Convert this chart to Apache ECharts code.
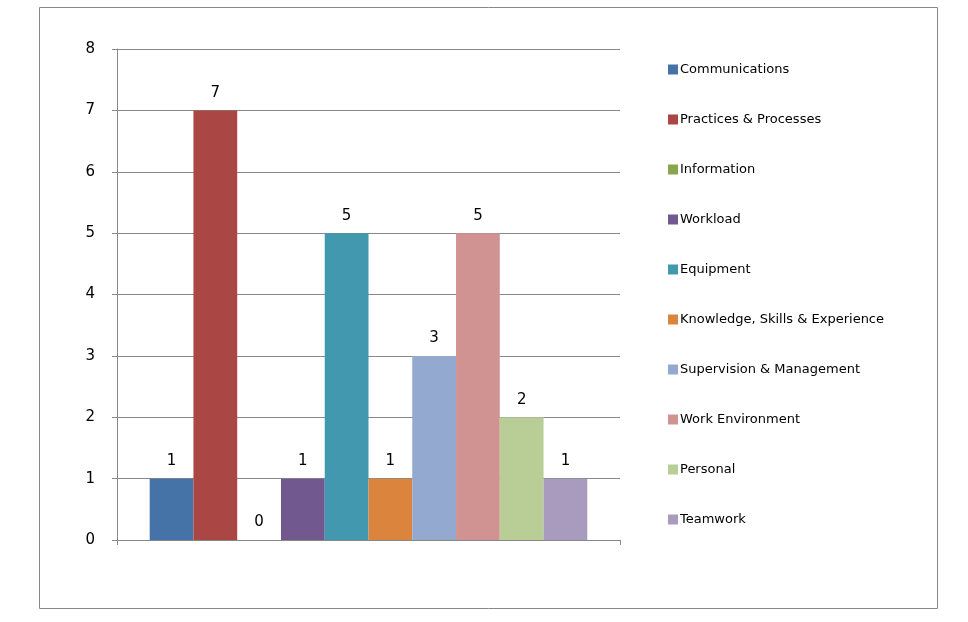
<!DOCTYPE html>
<html><head><meta charset="utf-8">
<script src="https://cdn.jsdelivr.net/npm/echarts@6/dist/echarts.min.js"></script>
<style>body{margin:0;background:#fff}#c{width:968px;height:622px}</style>
</head><body><div id="c"></div>
<script>
const categories = [''];
const seriesNames = ['Communications','Practices & Processes','Information','Workload','Equipment','Knowledge, Skills & Experience','Supervision & Management','Work Environment','Personal','Teamwork'];
const seriesValues = [1,7,0,1,5,1,3,5,2,1];
const colors = ['#4572A7','#AA4643','#89A54E','#71588F','#4198AF','#DB843D','#93A9CF','#D19392','#B9CD96','#A99BBD'];
const yTicks = {min:0,max:8,interval:1};
const chart = echarts.init(document.getElementById('c'));
chart.setOption({
  animation:false,
  color: colors,
  graphic:[{type:'rect',shape:{x:39.5,y:7.5,width:898,height:601},style:{fill:'none',stroke:'#888',lineWidth:1}}],
  grid:{left:117,top:49,width:503,height:491},
  legend:{orient:'vertical',left:663,top:58,itemWidth:10,itemHeight:10,itemGap:37,icon:'rect',
    textStyle:{fontFamily:'DejaVu Sans',fontSize:13,color:'#000',padding:[0,0,0,-3]},data:seriesNames},
  xAxis:{type:'category',data:categories,axisLine:{lineStyle:{color:'#888'}},axisTick:{show:true,length:5,lineStyle:{color:'#888'}},axisLabel:{show:false}},
  yAxis:{type:'value',min:yTicks.min,max:yTicks.max,interval:yTicks.interval,
    axisLine:{show:true,lineStyle:{color:'#888'}},axisTick:{show:true,length:5,lineStyle:{color:'#888'}},
    splitLine:{lineStyle:{color:'#888'}},axisLabel:{fontFamily:'DejaVu Sans',fontSize:15,color:'#000',margin:22}},
  series: seriesNames.map((n,i)=>({name:n,type:'bar',data:[seriesValues[i]],barGap:'0%',barCategoryGap:'13%',
    label:{show:true,position:'top',distance:10,fontFamily:'DejaVu Sans',fontSize:15,color:'#000'}}))
});
</script></body></html>
